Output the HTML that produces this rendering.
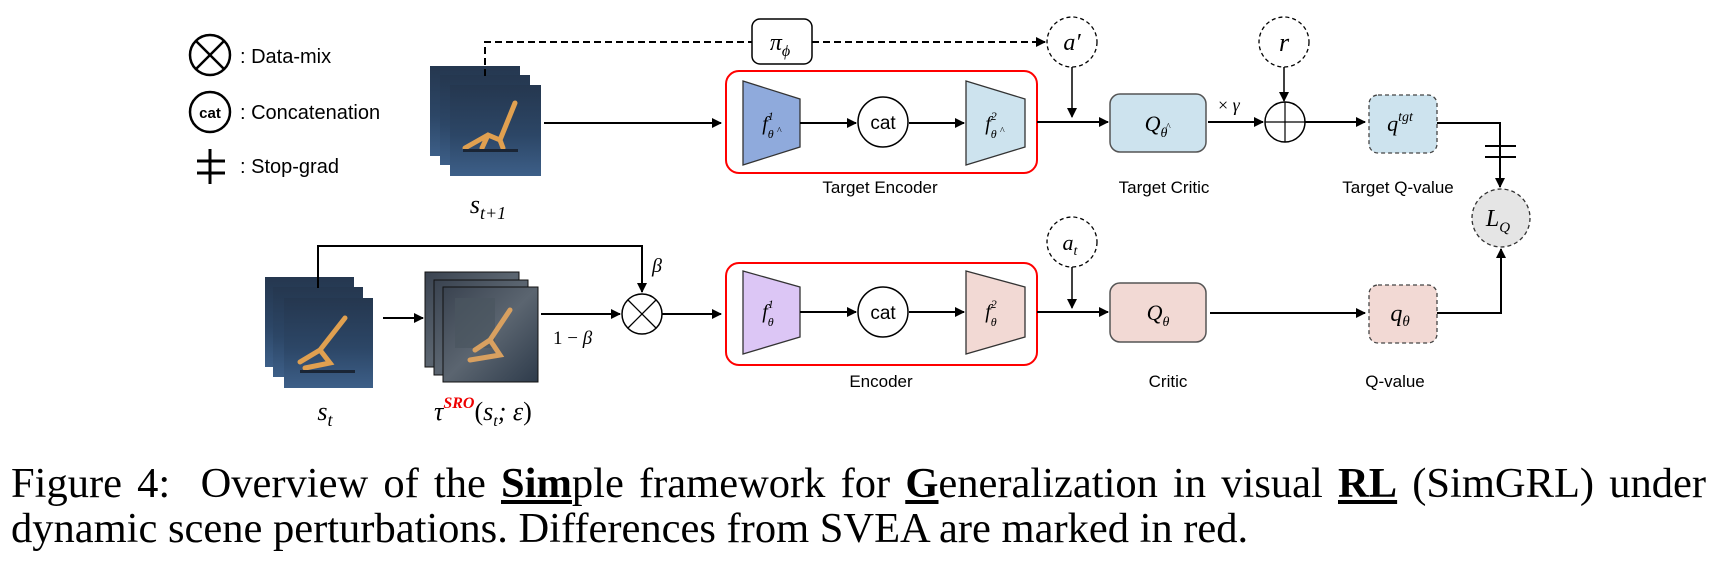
<!DOCTYPE html>
<html><head><meta charset="utf-8"><style>
html,body{margin:0;padding:0;background:#fff;width:1724px;height:568px;overflow:hidden;position:relative}
svg{position:absolute;left:0;top:0}
.cap{position:absolute;left:11px;width:1695px;font-family:"Liberation Serif",serif;font-size:42.5px;line-height:48px;height:48px;color:#000;white-space:nowrap}
.l1{top:460px;text-align:justify;text-align-last:justify;white-space:normal;overflow:hidden}
.l2{top:505px}
u b{text-decoration:underline}
</style></head><body>
<svg width="1724" height="568" viewBox="0 0 1724 568" xmlns="http://www.w3.org/2000/svg" font-family="Liberation Sans, sans-serif">
<defs>
<marker id="ar" markerWidth="10" markerHeight="10" refX="9" refY="5" orient="auto" markerUnits="userSpaceOnUse"><path d="M0,0 L10,5 L0,10z" fill="#000"/></marker>
<linearGradient id="sky" x1="0" y1="0" x2="0" y2="1"><stop offset="0" stop-color="#25374f"/><stop offset="0.55" stop-color="#2c4666"/><stop offset="1" stop-color="#3d5f88"/></linearGradient>
<linearGradient id="tau" x1="0" y1="0" x2="1" y2="1"><stop offset="0" stop-color="#3a4350"/><stop offset="0.5" stop-color="#5b6570"/><stop offset="1" stop-color="#2e3b4b"/></linearGradient>
</defs>
<!-- legend -->
<circle cx="210" cy="55" r="20" fill="none" stroke="#000" stroke-width="2.5"/>
<line x1="196" y1="41" x2="224" y2="69" stroke="#000" stroke-width="2.5"/><line x1="224" y1="41" x2="196" y2="69" stroke="#000" stroke-width="2.5"/>
<text x="240" y="63" font-size="20">: Data-mix</text>
<circle cx="210" cy="112" r="20" fill="none" stroke="#000" stroke-width="2.5"/>
<text x="210" y="118" font-size="15" font-weight="bold" text-anchor="middle">cat</text>
<text x="240" y="119" font-size="20">: Concatenation</text>
<line x1="210" y1="149" x2="210" y2="184" stroke="#000" stroke-width="3"/>
<line x1="197" y1="161" x2="225" y2="161" stroke="#000" stroke-width="3"/><line x1="197" y1="173" x2="225" y2="173" stroke="#000" stroke-width="3"/>
<text x="240" y="173" font-size="20">: Stop-grad</text>

<!-- s_{t+1} stack -->
<g>
<rect x="430" y="66" width="90" height="90" fill="url(#sky)"/>
<rect x="440" y="75" width="90" height="90" fill="url(#sky)"/>
<rect x="450" y="85" width="91" height="91" fill="url(#sky)"/>
<path d="M515,103 L500,140 L488,135 L465,148 M500,140 L503,148 M488,135 L482,148" stroke="#e0a050" stroke-width="5" fill="none" stroke-linecap="round"/>
<rect x="463" y="149" width="55" height="3" fill="#1a2535"/>
</g>
<text x="488" y="213" font-size="26" font-family="Liberation Serif, serif" font-style="italic" text-anchor="middle">s<tspan font-size="18" dy="6">t+1</tspan></text>
<!-- dashed policy path -->
<path d="M485,76 L485,42 L752,42" fill="none" stroke="#000" stroke-width="2" stroke-dasharray="7,4"/>
<path d="M812,42 L1045,42" fill="none" stroke="#000" stroke-width="2" stroke-dasharray="7,4" marker-end="url(#ar)"/>
<rect x="752" y="19" width="60" height="45" rx="8" fill="#fff" stroke="#000" stroke-width="1.5"/>
<text x="780" y="50" font-size="24" font-family="Liberation Serif, serif" font-style="italic" text-anchor="middle">π<tspan font-size="16" dy="6">ϕ</tspan></text>
<circle cx="1072" cy="42" r="25" fill="#fff" stroke="#000" stroke-width="1.3" stroke-dasharray="4,3"/>
<text x="1072" y="50" font-size="24" font-family="Liberation Serif, serif" font-style="italic" text-anchor="middle">a′</text>
<line x1="1072" y1="67" x2="1072" y2="117" stroke="#000" stroke-width="1.5" marker-end="url(#ar)"/>

<line x1="544" y1="123" x2="721" y2="123" stroke="#000" stroke-width="2" marker-end="url(#ar)"/>
<!-- target encoder -->
<rect x="726" y="71" width="311" height="102" rx="13" fill="none" stroke="#f00" stroke-width="2"/>
<polygon points="743,81 800,99 800,147 743,165" fill="#8faadc" stroke="#333" stroke-width="1.3"/>
<text x="768" y="130" font-size="20" font-family="Liberation Serif, serif" font-style="italic" text-anchor="middle">f<tspan font-size="12" dy="-10">1</tspan><tspan font-size="12" dx="-6" dy="18">θ</tspan></text>
<text x="777" y="134" font-size="10" font-family="Liberation Serif, serif">^</text>
<line x1="800" y1="123" x2="856" y2="123" stroke="#000" stroke-width="2" marker-end="url(#ar)"/>
<circle cx="883" cy="122" r="25" fill="#fff" stroke="#000" stroke-width="1.5"/>
<text x="883" y="129" font-size="19" text-anchor="middle">cat</text>
<line x1="909" y1="123" x2="964" y2="123" stroke="#000" stroke-width="2" marker-end="url(#ar)"/>
<polygon points="966,81 1025,99 1025,147 966,165" fill="#cde3ee" stroke="#333" stroke-width="1.3"/>
<text x="991" y="130" font-size="20" font-family="Liberation Serif, serif" font-style="italic" text-anchor="middle">f<tspan font-size="12" dy="-10">2</tspan><tspan font-size="12" dx="-6" dy="18">θ</tspan></text>
<text x="1000" y="134" font-size="10" font-family="Liberation Serif, serif">^</text>
<text x="880" y="193" font-size="17" text-anchor="middle">Target Encoder</text>
<line x1="1037" y1="122" x2="1108" y2="122" stroke="#000" stroke-width="2" marker-end="url(#ar)"/>
<rect x="1110" y="94" width="96" height="58" rx="10" fill="#cde3ee" stroke="#555" stroke-width="1.5"/>
<text x="1156" y="131" font-size="22" font-family="Liberation Serif, serif" font-style="italic" text-anchor="middle">Q<tspan font-size="14" dy="6">θ</tspan></text>
<text x="1166" y="130" font-size="10" font-family="Liberation Serif, serif">^</text>
<text x="1164" y="193" font-size="17" text-anchor="middle">Target Critic</text>
<text x="1218" y="111" font-size="18" font-family="Liberation Serif, serif">× <tspan font-style="italic">γ</tspan></text>
<line x1="1208" y1="122" x2="1263" y2="122" stroke="#000" stroke-width="2" marker-end="url(#ar)"/>
<circle cx="1285" cy="122" r="20" fill="#fff" stroke="#000" stroke-width="1.5"/>
<line x1="1265" y1="122" x2="1305" y2="122" stroke="#000" stroke-width="1.2"/><line x1="1285" y1="102" x2="1285" y2="142" stroke="#000" stroke-width="1.2"/>
<circle cx="1284" cy="42" r="25" fill="#fff" stroke="#000" stroke-width="1.3" stroke-dasharray="4,3"/>
<text x="1284" y="51" font-size="26" font-family="Liberation Serif, serif" font-style="italic" text-anchor="middle">r</text>
<line x1="1284" y1="67" x2="1284" y2="101" stroke="#000" stroke-width="1.5" marker-end="url(#ar)"/>
<line x1="1305" y1="122" x2="1365" y2="122" stroke="#000" stroke-width="2" marker-end="url(#ar)"/>
<rect x="1369" y="95" width="68" height="58" rx="9" fill="#cde3ee" stroke="#444" stroke-width="1.3" stroke-dasharray="4,3"/>
<text x="1400" y="131" font-size="22" font-family="Liberation Serif, serif" font-style="italic" text-anchor="middle">q<tspan font-size="14" dy="-10">tgt</tspan></text>
<text x="1398" y="193" font-size="17" text-anchor="middle">Target Q-value</text>
<path d="M1437,123 L1500,123 L1500,187" fill="none" stroke="#000" stroke-width="2" marker-end="url(#ar)"/>
<line x1="1485" y1="146" x2="1516" y2="146" stroke="#000" stroke-width="2"/><line x1="1485" y1="157" x2="1516" y2="157" stroke="#000" stroke-width="2"/>
<circle cx="1501" cy="218" r="29" fill="#e5e5e5" stroke="#333" stroke-width="1.3" stroke-dasharray="4,3"/>
<text x="1498" y="226" font-size="24" font-family="Liberation Serif, serif" font-style="italic" text-anchor="middle">L<tspan font-size="15" dy="6">Q</tspan></text>

<!-- bottom row -->
<g>
<rect x="265" y="277" width="89" height="90" fill="url(#sky)"/>
<rect x="273" y="287" width="90" height="90" fill="url(#sky)"/>
<rect x="284" y="298" width="89" height="90" fill="url(#sky)"/>
<path d="M345,318 L320,350 L330,363 L305,368 M320,350 L300,362" stroke="#e0a050" stroke-width="5" fill="none" stroke-linecap="round"/>
<rect x="300" y="370" width="55" height="3" fill="#1a2535"/>
</g>
<text x="325" y="420" font-size="26" font-family="Liberation Serif, serif" font-style="italic" text-anchor="middle">s<tspan font-size="18" dy="6">t</tspan></text>
<path d="M318,288 L318,246 L642,246 L642,292" fill="none" stroke="#000" stroke-width="2" marker-end="url(#ar)"/>
<text x="652" y="272" font-size="20" font-family="Liberation Serif, serif" font-style="italic">β</text>
<line x1="383" y1="318" x2="423" y2="318" stroke="#000" stroke-width="2" marker-end="url(#ar)"/>
<g>
<rect x="425" y="272" width="94" height="95" fill="url(#tau)" stroke="#111"/>
<rect x="434" y="280" width="94" height="95" fill="url(#tau)" stroke="#111"/>
<rect x="443" y="287" width="95" height="95" fill="url(#tau)" stroke="#111"/>
<rect x="455" y="298" width="40" height="50" fill="#4a5560" opacity="0.7"/>
<path d="M510,310 L490,340 L500,355 L470,360 M490,340 L475,350" stroke="#d8a060" stroke-width="5" fill="none" stroke-linecap="round"/>
</g>
<text x="434" y="420" font-size="26" font-family="Liberation Serif, serif" font-style="italic">τ<tspan font-size="16" font-weight="bold" fill="#e00" dy="-12">SRO</tspan><tspan font-style="normal" dy="12">(</tspan>s<tspan font-size="16" dy="6">t</tspan><tspan dy="-6">; ε</tspan><tspan font-style="normal">)</tspan></text>
<line x1="541" y1="314" x2="620" y2="314" stroke="#000" stroke-width="2" marker-end="url(#ar)"/>
<text x="553" y="344" font-size="19" font-family="Liberation Serif, serif">1 − <tspan font-style="italic">β</tspan></text>
<circle cx="642" cy="314" r="20" fill="#fff" stroke="#000" stroke-width="1.5"/>
<line x1="628" y1="300" x2="656" y2="328" stroke="#000" stroke-width="1.3"/><line x1="656" y1="300" x2="628" y2="328" stroke="#000" stroke-width="1.3"/>
<line x1="662" y1="314" x2="721" y2="314" stroke="#000" stroke-width="2" marker-end="url(#ar)"/>
<rect x="726" y="263" width="311" height="102" rx="13" fill="none" stroke="#f00" stroke-width="2"/>
<polygon points="743,271 800,287 800,337 743,354" fill="#dcc6f5" stroke="#333" stroke-width="1.3"/>
<text x="768" y="318" font-size="20" font-family="Liberation Serif, serif" font-style="italic" text-anchor="middle">f<tspan font-size="12" dy="-10">1</tspan><tspan font-size="12" dx="-6" dy="18">θ</tspan></text>
<line x1="800" y1="312" x2="856" y2="312" stroke="#000" stroke-width="2" marker-end="url(#ar)"/>
<circle cx="883" cy="312" r="25" fill="#fff" stroke="#000" stroke-width="1.5"/>
<text x="883" y="319" font-size="19" text-anchor="middle">cat</text>
<line x1="909" y1="312" x2="964" y2="312" stroke="#000" stroke-width="2" marker-end="url(#ar)"/>
<polygon points="966,271 1025,287 1025,337 966,354" fill="#f2d9d4" stroke="#333" stroke-width="1.3"/>
<text x="991" y="318" font-size="20" font-family="Liberation Serif, serif" font-style="italic" text-anchor="middle">f<tspan font-size="12" dy="-10">2</tspan><tspan font-size="12" dx="-6" dy="18">θ</tspan></text>
<text x="881" y="387" font-size="17" text-anchor="middle">Encoder</text>
<circle cx="1072" cy="242" r="25" fill="#fff" stroke="#000" stroke-width="1.3" stroke-dasharray="4,3"/>
<text x="1070" y="250" font-size="22" font-family="Liberation Serif, serif" font-style="italic" text-anchor="middle">a<tspan font-size="14" dy="5">t</tspan></text>
<line x1="1072" y1="267" x2="1072" y2="308" stroke="#000" stroke-width="1.5" marker-end="url(#ar)"/>
<line x1="1037" y1="312" x2="1108" y2="312" stroke="#000" stroke-width="2" marker-end="url(#ar)"/>
<rect x="1110" y="283" width="96" height="59" rx="10" fill="#f2d9d4" stroke="#555" stroke-width="1.5"/>
<text x="1158" y="320" font-size="22" font-family="Liberation Serif, serif" font-style="italic" text-anchor="middle">Q<tspan font-size="14" dy="6">θ</tspan></text>
<text x="1168" y="387" font-size="17" text-anchor="middle">Critic</text>
<line x1="1210" y1="313" x2="1365" y2="313" stroke="#000" stroke-width="2" marker-end="url(#ar)"/>
<rect x="1369" y="285" width="68" height="58" rx="9" fill="#f2d9d4" stroke="#444" stroke-width="1.3" stroke-dasharray="4,3"/>
<text x="1400" y="321" font-size="24" font-family="Liberation Serif, serif" font-style="italic" text-anchor="middle">q<tspan font-size="15" dy="5">θ</tspan></text>
<text x="1395" y="387" font-size="17" text-anchor="middle">Q-value</text>
<path d="M1437,313 L1501,313 L1501,249" fill="none" stroke="#000" stroke-width="2" marker-end="url(#ar)"/>
</svg>
<div class="cap l1">Figure 4: &nbsp;Overview of the <u><b>Sim</b></u>ple framework for <u><b>G</b></u>eneralization in visual <u><b>RL</b></u> (SimGRL) under</div>
<div class="cap l2">dynamic scene perturbations. Differences from SVEA are marked in red.</div>
</body></html>
